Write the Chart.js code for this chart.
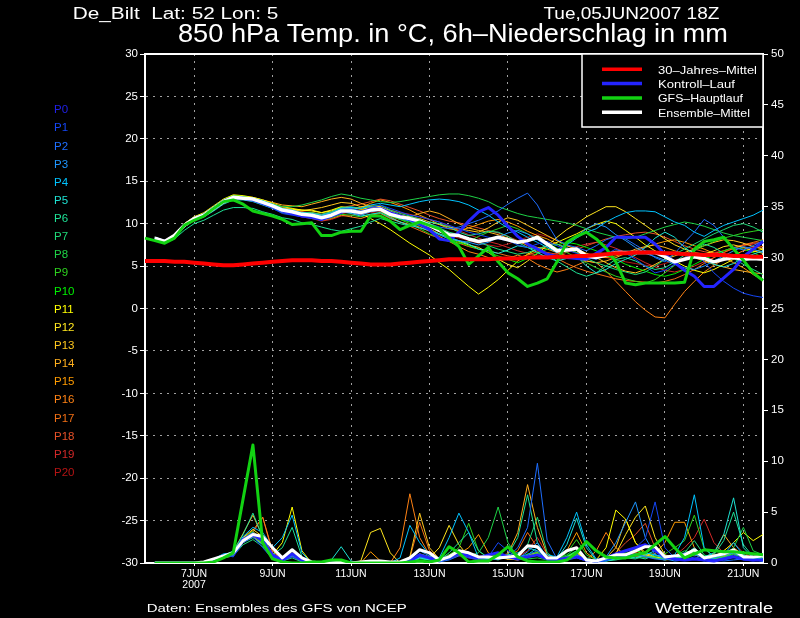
<!DOCTYPE html>
<html><head><meta charset="utf-8">
<script src="https://cdn.jsdelivr.net/npm/chart.js@4.4.0/dist/chart.umd.min.js"></script>
<style>html,body{margin:0;padding:0;background:#000;overflow:hidden}canvas{display:block}</style>
</head><body>
<canvas id="c" width="800" height="618"></canvas>
<script>
// ---------- categories (6-hourly, 05JUN2007 18Z .. 21JUN2007 12Z) ----------
const categories = ['05JUN 18Z',
 '06JUN 00Z','06JUN 06Z','06JUN 12Z','06JUN 18Z','07JUN 00Z','07JUN 06Z','07JUN 12Z','07JUN 18Z',
 '08JUN 00Z','08JUN 06Z','08JUN 12Z','08JUN 18Z','09JUN 00Z','09JUN 06Z','09JUN 12Z','09JUN 18Z',
 '10JUN 00Z','10JUN 06Z','10JUN 12Z','10JUN 18Z','11JUN 00Z','11JUN 06Z','11JUN 12Z','11JUN 18Z',
 '12JUN 00Z','12JUN 06Z','12JUN 12Z','12JUN 18Z','13JUN 00Z','13JUN 06Z','13JUN 12Z','13JUN 18Z',
 '14JUN 00Z','14JUN 06Z','14JUN 12Z','14JUN 18Z','15JUN 00Z','15JUN 06Z','15JUN 12Z','15JUN 18Z',
 '16JUN 00Z','16JUN 06Z','16JUN 12Z','16JUN 18Z','17JUN 00Z','17JUN 06Z','17JUN 12Z','17JUN 18Z',
 '18JUN 00Z','18JUN 06Z','18JUN 12Z','18JUN 18Z','19JUN 00Z','19JUN 06Z','19JUN 12Z','19JUN 18Z',
 '20JUN 00Z','20JUN 06Z','20JUN 12Z','20JUN 18Z','21JUN 00Z','21JUN 06Z','21JUN 12Z'];
const xTickLabels = {'07JUN 00Z':['7JUN','2007'],'09JUN 00Z':'9JUN','11JUN 00Z':'11JUN','13JUN 00Z':'13JUN',
 '15JUN 00Z':'15JUN','17JUN 00Z':'17JUN','19JUN 00Z':'19JUN','21JUN 00Z':'21JUN'};
const tempTicks = {min:-30, max:30, step:5};
const rainTicks = {min:0, max:50, step:5};

// ---------- special series: 850 hPa temperature (°C) ----------
const tMittel30 = [5.6,5.6,5.6,5.5,5.5,5.4,5.3,5.2,5.1,5.1, 5.2,5.3,5.4,5.5,5.6,5.7,5.7,5.7,5.6,5.6,
 5.5,5.4,5.3,5.2,5.2,5.2,5.3,5.4,5.5,5.6, 5.7,5.8,5.8,5.8,5.8,5.8,5.9,5.9,5.9,6.0,
 6.0,6.0,6.1,6.1,6.2,6.2,6.3,6.4,6.5,6.5, 6.6,6.6,6.6,6.5,6.5,6.4,6.4,6.3,6.3,6.3,6.2,6.2,6.1,6.1];
const tGFS = [8.3,8.0,7.7,8.3,9.8,10.4,10.9,11.8,12.6,12.8,12.3, 11.5,11.2,10.9,10.5,9.9,10.0,10.1,8.6,8.6,9.0,
 9.1,9.1,10.9,10.9,10.3,9.3,9.8,10.2,9.8,9.4, 8.3,7.3,5.2,6.2,7.2,5.5,4.2,3.5,2.6,3.0,
 3.5,5.5,7.8,8.5,9.0,8.2,7.1,5.5,3.0,2.8, 3.0,3.0,3.0,3.0,3.1,7.0,7.9,8.1,8.4,7.0,5.7,4.2,3.3];
const tEnsMittel = [null, 8.3,7.9,8.6,9.8,10.6,11.0,11.8,12.6,13.1,13.0, 12.9,12.5,12.1,11.6,11.4,11.1,11.0,10.7,11.0,11.5,
 11.5,11.3,11.6,11.7,11.1,10.8,10.6,10.3,9.8,9.2, 8.7,8.6,8.2,7.9,8.1,8.4,8.1,7.8,8.0,8.4,
 7.6,6.8,6.9,7.0,6.2,6.0,6.3,6.6,6.6,6.6, 6.6,6.6,6.1,5.5,5.8,6.1,5.9,5.5,5.8,6.0,5.8,5.9,5.8];
const tKontroll = [null, 8.3,7.9,8.5,9.8,10.6,11.0,11.8,12.6,13.1,13.0, 12.8,12.4,12.0,11.5,11.2,10.9,10.8,10.5,10.9,11.4,
 11.5,11.3,11.7,11.8,11.3,10.9,10.5,10.0,9.3,8.2, 8.0,9.0,10.3,11.4,11.9,11.0,9.7,8.5,7.6,7.0,
 6.4,6.1,6.0,5.9,5.8,6.5,7.2,8.4,8.4,8.4, 8.4,7.6,6.4,5.4,4.5,3.8,2.6,2.6,3.6,4.6,6.1,7.0,7.9];

// ---------- ensemble members: temperature (°C) ----------
const tP1 = [null, 8.2,7.8,8.4,9.9,10.7,11.2,12.0,12.8,13.2,13.1, 12.8,12.3,11.8,11.2,11.0,10.8,10.6,10.4,10.8,11.2,
 11.6,11.4,11.9,12.2,11.8,11.4,11.0,10.8,10.5,10.2, 9.8,9.4,9.0,8.7,8.4,8.2,8.0,7.5,7.2,7.6,
 7.9,7.4,6.9,6.5,6.0,5.8,6.4,7.0,6.5,5.8, 5.0,4.2,4.5,5.2,6.0,6.4,5.5,4.2,3.2,2.4,1.8,1.5,1.3];
const tP2 = [null, 8.4,8.0,8.7,9.9,10.6,11.1,11.9,12.7,13.2,13.1, 12.9,12.4,12.0,11.5,11.3,11.2,11.0,10.9,11.2,11.7,
 11.8,11.5,11.7,11.9,11.3,10.9,10.7,10.4,10.0,9.6, 9.4,9.6,10.0,10.4,10.9,11.5,12.3,13.0,13.6,12.2,
 10.0,8.1,7.5,7.2,6.8,7.4,8.1,8.5,8.2,7.5, 6.8,6.0,5.5,6.5,7.8,9.0,10.5,9.8,8.4,7.2,6.9,7.4,8.0];
const tP3 = [null, 8.3,7.9,8.5,9.7,10.5,10.9,11.7,12.5,13.0,12.9, 12.7,12.3,11.9,11.4,11.2,11.0,10.8,10.5,10.9,11.4,
 11.3,11.0,11.4,11.6,11.0,10.6,10.3,9.8,9.2,8.7, 8.2,8.0,7.8,7.5,7.8,8.4,8.9,9.2,8.8,8.1,
 7.4,6.9,7.6,8.5,9.4,10.0,9.6,8.7,8.0,7.2, 6.5,6.1,5.7,5.2,4.8,4.6,5.0,5.6,6.2,6.8,7.3,7.0,6.6];
const tP4 = [null, 8.2,7.9,8.6,9.8,10.7,11.1,11.9,12.7,13.2,13.1, 13.0,12.7,12.3,11.8,11.6,11.3,11.2,11.0,11.3,11.8,
 11.9,11.8,12.2,12.4,12.2,12.0,12.3,12.6,12.8,12.9, 12.8,12.6,12.2,11.6,11.0,10.2,9.5,9.0,8.4,7.8,
 7.2,6.6,7.5,8.3,9.0,9.4,10.2,10.8,11.3,11.5, 11.5,11.4,10.8,10.2,9.8,9.0,8.5,9.2,9.8,10.2,10.6,11.0,11.6];
const tP5 = [null, 8.3,7.8,8.4,9.6,10.4,10.8,11.5,12.3,12.8,12.8, 12.6,12.2,11.8,11.3,11.1,10.9,10.8,10.6,11.0,11.4,
 11.2,10.9,11.1,11.3,10.7,10.2,9.8,9.5,9.2,8.8, 8.4,8.0,7.6,7.0,6.8,6.5,6.9,7.4,7.2,6.6,
 6.0,5.6,5.9,6.2,5.0,4.2,4.6,5.3,5.8,6.3, 7.2,8.3,9.0,8.4,7.2,6.4,5.8,5.2,4.9,5.3,6.0,6.4,6.8];
const tP6 = [null, 8.1,7.7,8.2,9.2,10.0,10.4,11.0,11.6,11.9,11.9, 11.8,11.4,11.1,10.7,10.5,10.1,9.9,9.6,9.3,9.1,
 9.4,9.7,10.2,10.6,10.3,10.0,9.7,9.9,10.2,10.0, 9.6,9.0,8.6,8.8,9.1,9.0,8.5,7.8,7.2,6.9,
 6.3,5.6,4.9,4.2,3.8,4.2,5.0,5.8,6.0,5.6, 5.0,4.6,4.8,5.5,6.3,7.0,7.6,7.2,6.5,5.9,5.2,4.6,4.0];
const tP7 = [null, 8.4,8.0,8.6,9.8,10.6,11.0,11.8,12.6,13.1,13.1, 12.9,12.6,12.2,11.8,11.5,11.3,11.3,11.1,11.4,11.9,
 12.0,11.8,12.0,12.2,11.6,11.2,10.9,10.5,10.0,9.5, 9.0,8.7,8.2,7.8,7.4,7.0,6.7,6.4,6.6,7.0,
 7.4,7.6,7.2,6.6,5.9,5.4,5.0,4.6,4.3,4.0, 4.3,5.0,5.8,6.4,7.0,7.6,8.2,8.8,9.3,9.8,10.0,9.6,9.0];
const tP8 = [null, 8.3,7.9,8.6,9.8,10.6,11.0,11.8,12.6,13.1,13.0, 12.9,12.6,12.3,12.0,12.0,12.2,12.5,12.8,13.2,13.5,
 13.3,13.0,12.8,12.6,12.5,12.6,12.8,13.0,13.2,13.4, 13.5,13.5,13.3,13.0,12.6,12.0,11.6,11.2,10.9,10.7,
 10.5,10.3,10.1,9.8,9.4,9.0,8.7,8.4,8.2,8.4, 8.8,9.2,9.6,9.9,10.2,10.0,9.7,9.3,8.9,8.6,8.4,8.2,8.0];
const tP9 = [null, 8.2,7.8,8.5,9.7,10.5,10.9,11.7,12.5,13.0,12.9, 12.8,12.4,12.0,11.6,11.3,11.0,10.8,10.5,10.7,11.1,
 11.0,10.8,11.1,11.3,10.9,10.5,10.0,9.4,8.8,8.3, 7.9,7.6,7.9,8.5,9.0,9.4,9.8,9.4,8.8,8.2,
 7.6,7.1,6.6,6.0,5.4,4.8,4.3,3.8,3.5,3.2, 3.0,3.4,4.2,5.1,6.0,6.8,7.4,7.9,8.3,8.6,8.9,9.1,9.3];
const tP10 = [null, 8.3,7.9,8.6,9.9,10.7,11.1,12.0,12.8,13.3,13.2, 13.0,12.7,12.2,11.7,11.5,11.2,11.1,10.9,11.2,11.7,
 11.7,11.4,11.5,11.6,10.9,10.5,10.2,9.8,9.3,8.7, 8.2,7.8,7.4,7.0,6.6,6.2,5.8,5.4,5.9,6.5,
 7.0,7.5,7.8,7.6,7.2,6.8,6.3,5.8,5.2,4.8, 4.4,4.0,3.8,4.1,4.6,5.2,5.8,6.3,6.8,7.2,7.0,6.6,6.0];
const tP11 = [null, 8.4,8.0,8.7,10.0,10.8,11.3,12.1,12.9,13.4,13.3, 13.1,12.8,12.4,12.0,11.8,11.6,11.5,11.3,11.6,12.0,
 11.8,11.2,10.6,10.0,9.3,8.5,7.7,7.0,6.3,5.4, 4.6,3.6,2.6,1.7,2.5,3.4,4.5,5.6,6.4,7.0,
 7.4,7.8,8.3,8.8,9.4,9.9,10.3,10.0,9.2,8.4, 7.5,6.8,6.2,5.6,5.0,4.5,4.2,4.6,5.2,5.8,6.3,6.7,7.0];
const tP12 = [null, 8.3,7.9,8.6,9.9,10.7,11.1,11.9,12.8,13.3,13.2, 13.0,12.6,12.2,11.8,11.7,11.6,11.6,11.3,11.5,11.9,
 11.9,11.7,11.9,12.0,11.5,11.0,10.6,10.0,9.4,8.8, 8.3,7.9,7.5,7.2,6.6,5.8,5.2,4.8,5.6,6.5,
 7.4,8.4,9.3,10.0,10.8,11.4,12.0,12.0,11.4,10.6, 9.8,9.0,8.2,7.5,7.0,6.6,6.4,6.8,7.3,7.5,7.2,6.8,6.5];
const tP13 = [null, 8.2,7.8,8.5,9.8,10.6,11.0,11.8,12.6,13.1,13.0, 12.9,12.5,12.1,11.7,11.6,11.5,11.7,11.9,12.2,12.5,
 12.4,12.0,12.1,12.0,11.4,11.0,10.8,10.6,10.2,9.9, 9.6,9.4,9.2,9.0,9.5,10.2,10.7,10.4,9.8,9.2,
 8.6,8.0,7.4,7.0,6.5,6.0,5.4,4.8,4.4,4.2, 4.6,5.2,5.8,6.2,6.6,7.0,7.4,7.8,8.1,8.0,7.7,7.3,7.0];
const tP14 = [null, 8.4,8.0,8.7,10.0,10.8,11.2,12.0,12.8,13.3,13.2, 13.1,12.8,12.5,12.2,12.1,12.0,12.3,12.6,12.9,13.1,
 12.9,12.4,12.0,11.6,11.0,10.6,10.8,11.2,11.5,11.2, 10.6,10.0,9.5,9.2,9.0,8.7,8.3,7.9,7.5,7.2,
 7.0,6.6,6.2,5.9,5.6,5.4,5.6,6.0,6.5,7.0, 7.3,7.5,7.2,6.8,6.4,6.0,5.6,5.2,4.9,4.6,4.4,4.2,4.1];
const tP15 = [null, 8.3,7.9,8.5,9.8,10.6,11.0,11.8,12.7,13.2,13.1, 12.9,12.5,12.1,11.7,11.5,11.3,11.3,11.0,11.3,11.8,
 11.9,11.9,12.4,12.8,12.5,12.1,11.6,11.0,10.5,9.9, 9.4,9.2,9.5,9.9,10.3,10.5,10.2,9.7,9.1,8.6,
 8.2,7.6,7.0,6.6,6.3,6.1,6.0,6.2,6.5,6.8, 7.2,7.6,7.9,8.1,7.8,7.4,7.0,6.5,6.0,5.4,4.8,4.0,3.3];
const tP16 = [null, 8.2,7.8,8.4,9.6,10.4,10.8,11.6,12.4,12.9,12.9, 12.7,12.3,11.9,11.4,11.2,10.9,10.7,10.4,10.6,11.0,
 10.8,10.6,11.0,11.2,10.6,10.2,9.9,9.6,9.1,8.5, 7.9,7.3,6.7,6.4,6.0,5.6,5.9,6.3,5.9,5.2,
 4.7,4.3,4.6,5.1,5.6,5.4,4.4,3.2,2.0,0.8, -0.2,-1.0,-1.1,0.5,2.0,3.2,4.3,5.1,5.8,6.3,6.8,7.1,7.3];
const tP17 = [null, 8.3,7.9,8.6,9.8,10.6,11.0,11.8,12.6,13.1,13.1, 12.9,12.5,12.1,11.6,11.4,11.1,10.9,10.6,10.8,11.2,
 11.4,11.6,11.8,11.5,10.8,10.2,9.7,9.2,8.7,8.3, 8.0,7.7,7.3,7.0,6.8,6.5,6.2,6.0,6.3,6.7,
 6.5,5.9,5.3,4.8,4.4,4.1,3.8,3.5,3.3,3.2, 3.1,3.0,3.2,3.5,4.0,4.6,5.3,6.0,6.6,7.1,7.5,7.8,8.1];
const tP18 = [null, 8.4,8.0,8.6,9.9,10.7,11.2,12.0,12.8,13.2,13.2, 13.0,12.7,12.3,11.9,11.7,11.4,11.3,11.1,11.4,11.9,
 12.1,12.3,12.6,12.9,12.7,12.3,11.9,11.5,11.0,10.6, 10.3,10.1,9.8,9.5,9.2,8.9,8.5,8.0,7.4,6.9,
 6.6,6.4,6.6,7.0,7.4,7.8,8.2,8.5,8.7,8.9, 9.0,8.8,8.4,7.9,7.4,7.0,6.7,6.5,6.8,7.2,7.5,7.7,7.8];
const tP19 = [null, 8.2,7.8,8.4,9.7,10.5,10.9,11.7,12.5,13.0,12.9, 12.8,12.3,11.9,11.4,11.1,10.8,10.6,10.3,10.5,10.9,
 11.0,11.1,11.5,11.8,11.6,11.3,11.1,10.8,10.5,10.2, 9.7,9.2,8.7,8.3,7.9,7.6,7.2,6.8,6.5,6.3,
 6.2,6.5,6.9,7.3,7.6,7.8,7.5,7.1,6.6,6.0, 5.4,4.9,4.5,4.3,4.6,5.0,5.5,6.0,6.6,7.1,7.4,7.6,7.7];
const tP20 = [null, 8.3,7.9,8.5,9.8,10.5,11.0,11.8,12.6,13.1,13.0, 12.8,12.4,12.0,11.5,11.3,11.0,10.9,10.6,10.9,11.3,
 11.3,11.1,11.3,11.4,10.8,10.5,10.3,10.1,9.6,9.1, 8.6,8.3,8.0,7.7,7.5,7.3,7.6,8.0,8.4,8.8,
 8.5,8.0,7.4,6.9,6.5,6.3,6.0,5.8,5.5,5.3, 5.1,5.0,5.3,5.7,6.0,6.2,6.4,6.6,6.8,7.0,7.1,7.2,7.3];

// ---------- 6h precipitation (mm) ----------
const rGFS = [null,0,0,0,0,0,0,0.1,0.5,1.0, 6.3,11.6,2.0,0.4,0.1,0,0,0.1,0.1,0.3, 0.3,0,0,0,0,0,0,0.1,0.2,0.1,
 0.3,1.6,1.0,0.1,0.2,0.2,0.8,1.6,0.6,0.2, 0.1,0.1,0.1,0.3,1.0,2.1,1.2,0.6,0.5,0.5, 0.8,1.0,1.8,2.6,1.5,0.5,0.9,1.3,1.2,1.1,1.1,1.0,0.9,0.8];
const rEnsMittel = [null,0,0,0,0,0,0.1,0.4,0.7,1.0, 2.2,2.8,2.6,1.5,0.5,1.3,0.5,0.1,0,0, 0.1,0,0.1,0.2,0.2,0.1,0.1,0.5,1.3,1.0,
 0.3,0.6,1.2,1.0,0.6,0.6,0.5,0.6,0.7,1.7, 1.6,0.5,0.5,1.2,1.5,0.3,0.2,0.5,0.8,0.8, 1.2,1.6,1.6,0.6,0.7,0.8,1.3,0.5,0.7,0.9,1.3,0.6,0.6,0.7];
const rKontroll = [null,0,0,0,0,0,0,0.3,0.7,0.9, 2.3,2.8,2.2,0.8,0.3,0.9,0.3,0,0,0, 0,0,0,0,0,0,0,0.2,0.8,0.5,
 0.3,0.6,1.0,0.7,0.5,0.8,1.0,0.6,0.4,0.6, 0.8,0.4,0.3,0.5,0.6,0.3,0.2,0.5,0.9,1.2, 1.5,1.8,1.2,0.6,0.4,0.3,0.4,0.3,0.2,0.4,0.6,0.4,0.3,0.3];
const rP1 = [null,0,0,0,0,0,0,0.3,0.8,0.6, 2.0,2.6,1.5,0.4,0.2,0.6,0.2,0,0,0, 0,0,0,0,0,0,0,0.2,0.8,0.5,
 0.2,0.4,0.8,0.5,0.3,0.6,2.0,1.2,0.5,0.8, 1.2,0.3,0.2,0.5,0.9,0.2,0.1,0.2,0.6,0.8, 1.5,2.4,6.0,1.5,0.5,0.3,0.6,0.4,0.3,0.5,0.8,0.3,0.2,0.4];
const rP2 = [null,0,0,0,0,0,0,0.2,0.6,0.9, 2.4,3.0,2.2,0.6,0.2,0.8,0.3,0,0,0, 0,0,0,0,0,0,0,0.1,0.6,0.4,
 0.1,0.3,0.7,0.9,0.5,0.3,0.4,0.6,1.5,3.5, 9.8,2.2,0.4,0.3,0.5,0.2,0.1,0.3,0.5,0.7, 0.9,0.6,0.4,0.3,0.6,1.0,0.8,0.5,0.3,0.2,0.3,0.4,0.3,0.2];
const rP3 = [null,0,0,0,0,0,0,0.3,0.7,0.8, 2.3,2.8,2.4,0.9,0.3,0.7,0.2,0,0,0, 0,0,0,0,0,0,0,0.3,1.2,0.7,
 0.3,0.5,0.9,0.6,0.4,0.8,1.0,0.6,0.4,1.1, 2.0,0.5,0.3,0.4,0.8,0.3,0.2,0.6,2.0,4.0, 6.0,2.5,0.8,0.4,0.2,0.3,0.4,0.2,0.5,0.8,1.0,0.5,0.3,0.2];
const rP4 = [null,0,0,0,0,0,0,0.4,0.9,1.0, 2.6,3.5,3.0,1.5,2.5,4.7,1.0,0,0,0, 0,0,0,0,0,0,0.5,3.7,2.0,0.8,
 0.5,2.5,4.9,3.0,0.5,0.3,0.4,0.5,0.6,0.8, 1.5,0.8,0.6,2.5,5.0,1.8,0.4,0.3,0.5,0.6, 0.8,1.0,0.8,0.6,0.8,2.5,6.7,1.5,0.6,0.8,2.0,0.8,0.4,0.3];
const rP5 = [null,0,0,0,0,0,0,0.2,0.6,0.8, 2.0,2.5,1.8,0.5,0.3,0.8,0.2,0,0,0.3, 1.6,0.2,0,0,0,0,0,0.2,0.5,0.3,
 0.2,0.4,1.0,0.8,0.5,0.4,0.6,0.8,1.0,1.5, 1.2,0.6,0.4,1.8,4.4,1.5,0.3,0.2,0.4,0.6, 0.5,0.8,1.2,0.6,0.4,0.8,1.5,0.6,1.0,2.8,6.4,1.5,0.5,0.4];
const rP6 = [null,0,0,0,0,0,0,0.3,0.7,1.2, 2.8,4.9,2.5,0.8,1.5,3.5,0.6,0,0,0, 0,0,0,0,0,0,0,0.1,0.5,0.4,
 0.3,1.0,2.0,3.0,1.2,0.5,0.3,0.8,2.5,6.7, 2.0,0.5,0.3,0.6,1.2,0.4,0.2,0.2,0.3,0.5, 0.6,0.4,0.8,0.5,0.4,0.6,0.9,0.5,0.8,2.2,5.0,1.8,0.6,0.5];
const rP7 = [null,0,0,0,0,0,0,0.2,0.5,0.7, 1.8,2.3,1.6,0.4,0.2,0.5,0.1,0,0,0, 0,0,0,0,0,0,0,0.2,0.9,0.6,
 0.3,0.6,1.2,0.7,0.3,0.5,0.8,0.6,0.5,1.8, 4.5,1.0,0.3,0.4,0.8,0.3,0.1,0.3,0.6,0.5, 0.4,0.7,0.5,0.3,0.5,1.0,2.2,0.8,0.4,0.6,1.0,0.5,0.3,0.2];
const rP8 = [null,0,0,0,0,0,0,0.3,0.6,0.9, 2.2,2.9,2.0,0.7,0.3,0.9,0.3,0,0,0, 0,0,0,0,0,0,0,0.1,0.4,0.3,
 0.2,0.5,0.9,0.7,1.0,2.5,5.5,2.0,0.6,0.4, 0.5,0.3,0.4,0.8,1.5,0.5,0.2,0.4,0.8,1.0, 0.8,0.6,0.5,0.4,0.7,1.2,1.0,0.6,0.5,0.8,1.5,3.5,1.2,0.8];
const rP9 = [null,0,0,0,0,0,0,0.2,0.5,0.8, 2.1,2.7,1.9,0.6,0.2,0.7,0.2,0,0,0, 0,0,0,0,0,0,0,0.2,0.7,0.5,
 0.3,0.8,1.5,3.9,1.2,0.5,0.6,0.5,0.4,0.7, 1.0,0.4,0.3,1.0,2.3,0.8,0.3,0.2,0.4,0.6, 0.8,0.5,0.6,0.9,1.5,2.2,4.7,1.4,0.6,0.5,0.8,0.6,0.4,0.3];
const rP10 = [null,0,0,0,0,0,0,0.3,0.7,1.0, 2.4,3.1,2.0,0.6,0.3,0.8,0.2,0,0,0, 0,0,0,0,0,0,0,0.2,0.6,0.4,
 0.2,0.5,1.1,0.8,0.4,0.6,0.8,0.5,0.4,0.9, 1.1,0.4,0.3,0.7,1.2,0.4,0.2,0.3,0.6,0.9, 1.2,1.0,0.8,0.5,0.6,0.9,1.1,0.7,0.5,0.6,0.9,0.7,0.5,0.4];
const rP11 = [null,0,0,0,0,0,0,0.2,0.6,0.9, 2.2,2.8,2.0,0.8,2.0,5.5,1.2,0,0,0, 0,0,0,0,0,0,0,0.2,0.8,0.6,
 0.3,0.8,1.2,0.8,0.4,0.5,0.6,0.4,0.3,0.6, 0.9,0.4,0.3,0.6,1.0,0.4,0.3,1.5,5.2,4.3, 2.0,1.0,0.6,0.4,0.5,0.7,0.9,0.5,0.6,1.2,2.0,3.0,2.2,2.8];
const rP12 = [null,0,0,0,0,0,0,0.3,0.7,1.1, 2.5,3.3,2.6,0.9,0.4,1.0,0.3,0,0,0, 0,0,0.2,3.0,3.4,1.0,0,0.1,0.6,0.5,
 1.5,3.7,1.8,0.6,0.4,0.5,0.7,0.5,0.4,0.8, 1.0,0.5,0.3,0.6,1.1,0.4,0.2,0.4,0.9,2.8, 4.5,5.6,2.5,0.8,0.5,0.6,0.9,0.5,0.4,0.6,1.0,0.8,0.5,0.4];
const rP13 = [null,0,0,0,0,0,0,0.2,0.6,0.8, 2.0,2.6,1.9,0.7,0.3,0.8,0.2,0,0,0, 0,0,0,0,0,0,0,0.6,4.9,1.5,
 0.4,0.6,1.0,0.7,0.4,0.5,0.6,0.5,0.4,0.7, 0.9,0.4,0.3,0.5,0.9,0.3,0.2,0.5,1.5,4.3, 2.0,0.8,0.5,0.3,0.4,0.6,0.8,0.5,0.4,0.5,0.9,0.6,0.4,0.3];
const rP14 = [null,0,0,0,0,0,0,0.3,0.8,1.1, 2.9,4.7,2.6,0.8,0.3,0.9,0.3,0,0,0, 0,0,0,0,0,0,0,0.2,0.7,0.5,
 0.3,0.6,1.0,0.8,0.5,0.6,0.7,0.9,3.0,7.7, 3.5,0.8,0.4,0.6,1.0,0.4,0.2,0.3,0.6,0.9, 1.2,0.8,0.6,0.4,0.5,0.8,1.0,0.6,0.9,2.8,1.5,0.8,0.5,0.4];
const rP15 = [null,0,0,0,0,0,0,0.3,0.7,0.9, 2.3,3.0,2.1,0.6,0.3,0.8,0.2,0,0,0, 0,0,0,1.1,0.2,0,0,0.2,0.8,0.6,
 0.3,0.5,0.9,1.5,2.8,1.0,0.5,0.4,0.5,0.8, 1.1,0.4,0.3,1.2,3.0,1.0,0.3,0.4,0.7,0.9, 1.0,0.8,0.9,2.0,4.0,4.0,1.5,0.6,0.4,0.6,0.9,0.6,0.4,0.3];
const rP16 = [null,0,0,0,0,0,0,0.2,0.6,0.8, 2.2,3.2,4.5,1.2,0.3,0.7,0.2,0,0,0, 0,0,0,0,0,0,1.5,6.8,2.5,0.8,
 0.3,0.5,0.8,0.6,0.4,0.5,0.6,0.4,0.5,0.8, 1.0,0.4,0.3,0.5,0.8,0.3,1.2,3.0,1.5,0.8, 0.7,0.6,0.5,0.4,0.6,0.8,1.0,0.6,0.5,0.7,1.0,0.6,0.4,0.3];
const rP17 = [null,0,0,0,0,0,0,0.3,0.7,1.0, 2.5,3.1,2.3,0.7,0.3,0.9,0.3,0,0,0, 0,0,0,0,0,0,0,0.5,4.0,1.2,
 0.4,0.6,0.9,0.7,0.4,0.5,0.6,0.7,1.2,3.0, 1.5,0.5,0.3,0.5,0.9,0.3,0.2,0.4,0.7,0.9, 1.0,0.7,0.6,0.5,0.6,0.8,0.9,0.6,0.5,0.7,1.1,0.7,0.4,0.3];
const rP18 = [null,0,0,0,0,0,0,0.2,0.6,0.8, 2.4,3.0,4.5,1.0,0.3,0.8,0.2,0,0,0, 0,0,0,0,0,0,0,0.2,0.9,0.6,
 0.3,0.5,0.9,0.6,0.4,0.6,0.7,0.5,0.4,0.7, 0.9,0.4,0.3,0.5,0.8,0.3,0.2,0.4,1.0,2.0, 2.8,3.9,1.5,0.6,0.5,0.7,0.9,0.6,0.5,0.6,0.9,0.6,0.4,0.3];
const rP19 = [null,0,0,0,0,0,0,0.3,0.7,0.9, 2.2,2.9,2.1,0.6,0.3,0.8,0.2,0,0,0, 0,0,0,0,0,0,0,0.2,0.7,0.5,
 0.3,0.5,0.8,0.6,0.4,0.5,0.6,0.5,0.6,1.2, 2.5,0.8,0.3,0.5,0.8,0.3,0.2,0.3,0.6,0.8, 0.7,0.6,0.5,0.5,0.7,1.5,2.5,4.3,2.0,1.0,0.8,0.6,0.4,0.3];
const rP20 = [null,0,0,0,0,0,0,0.2,0.5,0.7, 2.0,2.6,1.8,0.5,0.2,0.6,0.2,0,0,0, 0,0,0,0,0,0,0,0.1,0.5,0.4,
 0.2,0.4,0.7,0.5,0.3,0.4,0.5,0.4,0.3,0.6, 0.8,0.3,0.2,0.4,0.7,0.3,0.2,0.3,0.5,0.7, 0.8,0.6,0.5,0.4,0.5,0.7,0.8,0.5,0.6,1.2,2.0,1.0,0.5,0.4];

// ---------- names / colours ----------
const memberNames = ['P0','P1','P2','P3','P4','P5','P6','P7','P8','P9','P10','P11','P12','P13','P14','P15','P16','P17','P18','P19','P20'];
const memberColors = ['#2020e6','#1446f5','#1e6eff','#1e96ff','#00c3ff','#1ee1d2','#1ee196','#1ed878','#1ed246','#2dd21e','#00f000',
 '#ffff00','#ffe61e','#ffc81e','#ffaf1e','#ff9b00','#ff8214','#f06e14','#e65028','#d22828','#b41414'];
const memberTemps = [tP1,tP2,tP3,tP4,tP5,tP6,tP7,tP8,tP9,tP10,tP11,tP12,tP13,tP14,tP15,tP16,tP17,tP18,tP19,tP20];
const memberRains = [rP1,rP2,rP3,rP4,rP5,rP6,rP7,rP8,rP9,rP10,rP11,rP12,rP13,rP14,rP15,rP16,rP17,rP18,rP19,rP20];
const legendNames = ['30\u2013Jahres\u2013Mittel','Kontroll\u2013Lauf','GFS\u2013Hauptlauf','Ensemble\u2013Mittel'];
const C_RED = '#ff0000', C_CTRL = '#2424ff', C_GFS = '#12d212', C_MEAN = '#ffffff';
const GRID = '#a0a0a0';
const SANS = "'Liberation Sans', Arial, sans-serif";

// ---------- datasets ----------
function line(label, data, color, width, axis) {
  return { label, data, borderColor: color, backgroundColor: color, borderWidth: width, yAxisID: axis,
           pointRadius: 0, tension: 0, fill: false, spanGaps: false };
}
const datasets = [
  line('30-Jahres-Mittel', tMittel30, C_RED, 4, 'y'),
  line('GFS-Hauptlauf', tGFS, C_GFS, 3, 'y'),
  line('GFS-Hauptlauf Niederschlag', rGFS, C_GFS, 3, 'y2'),
  line('Ensemble-Mittel', tEnsMittel, C_MEAN, 3.5, 'y'),
  line('Ensemble-Mittel Niederschlag', rEnsMittel, C_MEAN, 3, 'y2'),
  line('Kontroll-Lauf', tKontroll, C_CTRL, 3, 'y'),
  line('Kontroll-Lauf Niederschlag', rKontroll, C_CTRL, 3, 'y2')
];
memberTemps.forEach((d, i) => datasets.push(line(memberNames[i + 1], d, memberColors[i + 1], 1, 'y')));
memberRains.forEach((d, i) => datasets.push(line(memberNames[i + 1] + ' Niederschlag', d, memberColors[i + 1], 1, 'y2')));

function fitText(c, text, x, base, w, size) {
  c.font = size + 'px ' + SANS;
  const m = c.measureText(text).width;
  c.save(); c.translate(x, base); c.scale(w / m, 1);
  c.textAlign = 'left'; c.textBaseline = 'alphabetic';
  c.fillText(text, 0, 0); c.restore();
}

const deco = {
  id: 'deco',
  beforeDraw(chart) {
    const c = chart.ctx; c.save(); c.fillStyle = '#000'; c.fillRect(0, 0, chart.width, chart.height); c.restore();
  },
  afterDraw(chart) {
    const c = chart.ctx, a = chart.chartArea;
    c.save();
    c.strokeStyle = '#fff'; c.lineWidth = 2;
    c.beginPath(); c.moveTo(a.left - 1, a.top); c.lineTo(a.right + 1, a.top); c.stroke();
    c.fillStyle = '#fff';
    fitText(c, 'De_Bilt  Lat: 52 Lon: 5', 72.7, 19, 205.6, 16);
    fitText(c, 'Tue,05JUN2007 18Z', 543.4, 19, 176, 16);
    fitText(c, '850 hPa Temp. in \u00b0C, 6h\u2013Niederschlag in mm', 178, 41.7, 550, 25);
    fitText(c, 'Daten: Ensembles des GFS von NCEP', 146.7, 611.7, 260, 11.7);
    fitText(c, 'Wetterzentrale', 655, 612.7, 118, 15.4);
    // legend box
    const bx = 582, by = a.top, bw = a.right - bx, bh = 127 - a.top;
    c.fillStyle = '#000'; c.fillRect(bx, by, bw, bh);
    c.strokeStyle = '#fff'; c.lineWidth = 1.5; c.strokeRect(bx, by, bw, bh);
    const lc = [C_RED, C_CTRL, C_GFS, C_MEAN], ly = [69.3, 83.5, 98, 112.3], lw = [99, 77, 85, 92];
    legendNames.forEach((t, i) => {
      c.strokeStyle = lc[i]; c.lineWidth = 3.5; c.lineCap = 'butt';
      c.beginPath(); c.moveTo(602, ly[i]); c.lineTo(642, ly[i]); c.stroke();
      c.fillStyle = '#fff';
      fitText(c, t, 658, ly[i] + 4.2, lw[i], 11.6);
    });
    // member labels
    c.font = '11.5px ' + SANS; c.textAlign = 'left'; c.textBaseline = 'alphabetic';
    memberNames.forEach((n, i) => { c.fillStyle = memberColors[i]; c.fillText(n, 54, 113.3 + i * 18.13); });
    c.restore();
  }
};

const isMajor = i => !!xTickLabels[categories[i]];

new Chart(document.getElementById('c'), {
  type: 'line',
  data: { labels: categories, datasets },
  options: {
    responsive: false, animation: false, events: [],
    layout: { padding: { top: 54, left: 0, right: 0, bottom: 0 } },
    elements: { point: { radius: 0 }, line: { tension: 0, borderJoinStyle: 'round' } },
    plugins: { legend: { display: false }, tooltip: { enabled: false }, title: { display: false } },
    scales: {
      x: {
        type: 'category', position: 'bottom', offset: false,
        grid: { color: c => isMajor(c.index) ? GRID : 'transparent', lineWidth: 1, drawTicks: true, tickLength: 3,
                tickColor: c => isMajor(c.index) ? '#fff' : 'transparent', tickWidth: 1 },
        border: { display: true, color: '#fff', width: 2, dash: [2, 5] },
        ticks: { autoSkip: false, maxRotation: 0, minRotation: 0, color: '#fff', padding: 2,
                 font: { family: SANS, size: 10.5, lineHeight: 1.1 },
                 callback: v => xTickLabels[categories[v]] || '' },
        afterFit: s => { s.height = 55; }
      },
      y: {
        type: 'linear', position: 'left', min: tempTicks.min, max: tempTicks.max,
        ticks: { stepSize: tempTicks.step, color: '#fff', padding: 2, font: { family: SANS, size: 11.5 } },
        grid: { color: c => (c.tick && Math.abs(c.tick.value) === 30) ? 'transparent' : GRID, lineWidth: 1,
                tickColor: '#fff', tickLength: 5, tickWidth: 1 },
        border: { display: true, color: '#fff', width: 2, dash: [2, 5] },
        afterFit: s => { s.width = 145; }
      },
      y2: {
        type: 'linear', position: 'right', min: rainTicks.min, max: rainTicks.max,
        ticks: { stepSize: rainTicks.step, color: '#fff', padding: 3, font: { family: SANS, size: 11.5 } },
        grid: { drawOnChartArea: false, tickColor: '#fff', tickLength: 5, tickWidth: 1 },
        border: { display: true, color: '#fff', width: 2 },
        afterFit: s => { s.width = 37; }
      }
    }
  },
  plugins: [deco]
});
</script>
</body></html>
